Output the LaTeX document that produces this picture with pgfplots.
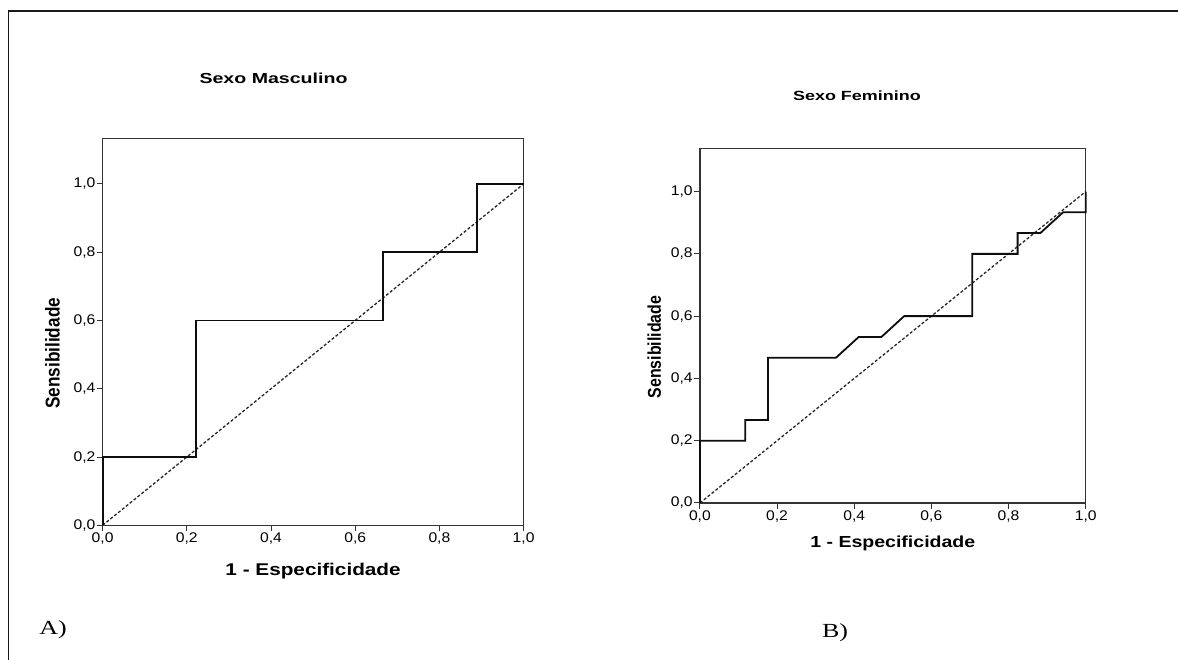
\documentclass[border=0pt]{standalone}
\usepackage{fontspec}
\setmainfont{Liberation Sans}
\newfontfamily\tickfont[FakeStretch=1.12]{Liberation Sans}
\newfontfamily\titlefont[FakeStretch=1.35]{Liberation Sans}
\newfontfamily\labfont[FakeStretch=1.22]{Liberation Sans}
\newfontfamily\ylabfont[FakeStretch=0.86]{Liberation Sans}
\newfontfamily\panelfont[FakeStretch=1.3]{Liberation Serif}
\usepackage{pgfplots}
\pgfplotsset{compat=1.18}

\pgfplotsset{
  spss/.style={
    scale only axis, clip=false,
    xmin=0, xmax=1, ymin=0,
    axis line style={black!80, line width=1.2pt},
    tick style={black!80, line width=1pt},
    tick align=outside, tick pos=left,
    major tick length=6pt,
    xtick={0,0.2,0.4,0.6,0.8,1},
    ytick={0,0.2,0.4,0.6,0.8,1},
    /pgf/number format/.cd, use comma, fixed, fixed zerofill, precision=1,
    assume math mode=true, /pgfplots/.cd,
    ticklabel style={font=\tickfont\fontsize{14}{16}\selectfont},
    yticklabel style={inner xsep=1pt},
    xticklabel style={inner ysep=1.5pt},
    xlabel={1 - Especificidade},
    ylabel={Sensibilidade},
  },
  roc/.style={black!95, line width=1.8pt, line join=miter},
  ref/.style={black!85, line width=1.3pt, dash pattern=on 3pt off 2pt},
}

\begin{document}
\begin{tikzpicture}
\useasboundingbox (0,0) rectangle (1178pt,660pt);
\draw[black!90, line width=1.8pt] (8.5pt,0) -- (8.5pt,649pt) -- (1178pt,649pt);

% A) Sexo Masculino
\begin{axis}[spss,
  at={(102.6pt,134.7pt)}, anchor=south west,
  width=421pt, height=386.4pt, ymax=1.132,
  title={Sexo Masculino},
  title style={font=\titlefont\bfseries\fontsize{14.5}{17}\selectfont,
    at={(axis description cs:0.406,1.141)}, anchor=center},
  xlabel style={font=\labfont\bfseries\fontsize{17}{20}\selectfont,
    at={(axis description cs:0.5,-0.118)}, anchor=center},
  ylabel style={font=\ylabfont\bfseries\fontsize{20}{22}\selectfont,
    at={(axis description cs:-0.119,0.445)}, anchor=center, rotate=0},
]
\addplot[ref] coordinates {(0,0) (1,1)};
\addplot[roc] coordinates {
  (0,0) (0,0.2) (0.2222,0.2) (0.2222,0.6) (0.6667,0.6)
  (0.6667,0.8) (0.8889,0.8) (0.8889,1) (1,1)
};
\end{axis}

% B) Sexo Feminino
\begin{axis}[spss,
  at={(699.9pt,157pt)}, anchor=south west,
  width=385.8pt, height=354.4pt, ymax=1.138,
  title={Sexo Feminino},
  title style={font=\titlefont\bfseries\fontsize{13.3}{16}\selectfont,
    at={(axis description cs:0.407,1.131)}, anchor=center},
  xlabel style={font=\labfont\bfseries\fontsize{16}{19}\selectfont,
    at={(axis description cs:0.5,-0.113)}, anchor=center},
  ylabel style={font=\ylabfont\bfseries\fontsize{18.5}{21}\selectfont,
    at={(axis description cs:-0.118,0.44)}, anchor=center, rotate=0},
]
\addplot[ref] coordinates {(0,0) (1,1)};
\addplot[roc] coordinates {
  (0,0) (0,0.2) (0.1176,0.2) (0.1176,0.2667) (0.1765,0.2667)
  (0.1765,0.4667) (0.3529,0.4667) (0.4118,0.5333) (0.4706,0.5333)
  (0.5294,0.6) (0.7059,0.6) (0.7059,0.8) (0.8235,0.8) (0.8235,0.8667)
  (0.8824,0.8667) (0.9412,0.9333) (1,0.9333) (1,1)
};
\end{axis}

\node[font=\panelfont\fontsize{20}{22}\selectfont] at (53pt,30pt) {A)};
\node[font=\panelfont\fontsize{20}{22}\selectfont] at (835pt,27pt) {B)};
\end{tikzpicture}
\end{document}
